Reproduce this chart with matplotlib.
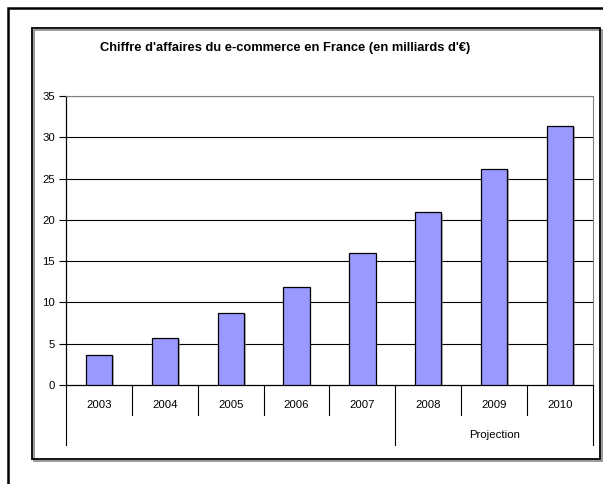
import matplotlib
matplotlib.use("Agg")
import matplotlib.pyplot as plt
from matplotlib.patches import Rectangle
from matplotlib.transforms import blended_transform_factory
import matplotlib.patheffects as pe

years = ["2003", "2004", "2005", "2006", "2007", "2008", "2009", "2010"]
values = [3.6, 5.7, 8.7, 11.9, 16.0, 20.9, 26.2, 31.4]
group_label = "Projection"
group_start = 5  # index of first projected year
yticks = [0, 5, 10, 15, 20, 25, 30, 35]
title = "Chiffre d'affaires du e-commerce en France (en milliards d'€)"

W, H = 603, 484
plt.rcParams['font.family'] = ['Liberation Sans', 'DejaVu Sans']
fig = plt.figure(figsize=(W / 100, H / 100), dpi=100)

def fx(px):
    return px / W

def fy(py):
    return 1 - py / H

# outer frame (only left/top visible)
fig.add_artist(Rectangle((fx(8), fy(490)), fx(620) - fx(8), fy(8) - fy(490),
                         transform=fig.transFigure, fill=False, ec='black', lw=1.8))
# inner chart box with slight shadow
fig.add_artist(Rectangle((fx(34), fy(461)), fx(602) - fx(34), fy(30) - fy(461),
                         transform=fig.transFigure, fill=False, ec='#888888', lw=1.2))
fig.add_artist(Rectangle((fx(32), fy(459)), fx(600) - fx(32), fy(28) - fy(459),
                         transform=fig.transFigure, fill=False, ec='black', lw=1.3))

fig.text(fx(285), fy(48), title, ha='center', va='center', fontsize=9.3,
         fontweight='bold')

left, right, top, bottom = 66, 593, 96, 385
ax = fig.add_axes([fx(left), fy(bottom), fx(right) - fx(left), fy(top) - fy(bottom)])
ax.set_xlim(-0.5, len(years) - 0.5)
ax.set_ylim(0, 35)

bars = ax.bar(range(len(years)), values, width=0.4, color='#9999FF',
              edgecolor='black', linewidth=0.9, zorder=3)
for b in bars:
    b.set_path_effects([pe.SimplePatchShadow(offset=(1.2, -0.8), shadow_rgbFace='#888888', alpha=0.6),
                        pe.Normal()])

ax.set_yticks(yticks)
ax.set_yticklabels([str(t) for t in yticks], fontsize=8.2)
ax.tick_params(axis='y', length=5, width=0.8, pad=3, direction='out')
ax.set_xticks([])
for t in yticks[1:]:
    ax.axhline(t, color='black', lw=0.8, zorder=1)

ax.spines['left'].set_color('black')
ax.spines['left'].set_linewidth(0.9)
ax.spines['bottom'].set_color('black')
ax.spines['bottom'].set_linewidth(0.9)
ax.spines['top'].set_color('#808080')
ax.spines['top'].set_linewidth(0.8)
ax.spines['right'].set_color('#808080')
ax.spines['right'].set_linewidth(0.8)

plot_h = bottom - top
trans = blended_transform_factory(ax.transData, ax.transAxes)
short = -30 / plot_h
long_ = -60 / plot_h
n = len(years)
for i in range(n + 1):
    xb = i - 0.5
    y1 = long_ if i in (0, group_start, n) else short
    ax.plot([xb, xb], [0, y1], transform=trans, color='black', lw=0.8, clip_on=False)
for i, yr in enumerate(years):
    ax.text(i, -20 / plot_h, yr, transform=trans, ha='center', va='center', fontsize=8.2)
ax.text((group_start + n - 1) / 2, -50 / plot_h, group_label, transform=trans,
        ha='center', va='center', fontsize=8.2)

fig.savefig("out.png", dpi=100)
